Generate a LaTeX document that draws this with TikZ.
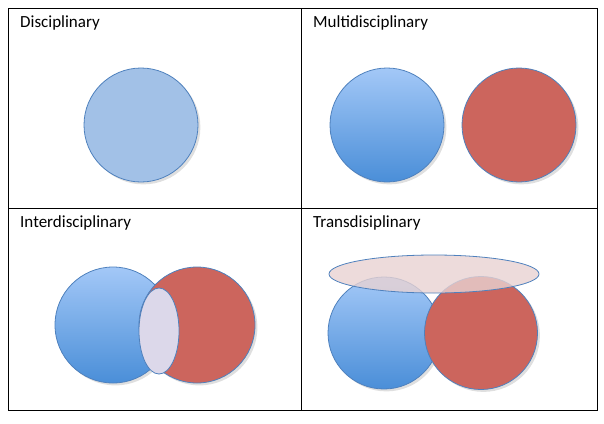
\documentclass[tikz,border=0pt]{standalone}
\usepackage{fontspec}
\setmainfont{Carlito}
\usetikzlibrary{shadows,shapes.geometric}
\definecolor{bl}{HTML}{4F81BD}
\definecolor{bltop}{HTML}{A3C8F7}
\definecolor{blbot}{HTML}{4A8ED8}
\definecolor{rd}{HTML}{CC655D}
\definecolor{flat}{HTML}{A2C1E7}
\tikzset{
 bluec/.style={circle,draw=bl,line width=0.8pt,top color=bltop,bottom color=blbot,drop shadow={opacity=0.25}},
 redc/.style={circle,draw=bl,line width=0.8pt,fill=rd,drop shadow={opacity=0.25}},
 lbl/.style={anchor=north west,font=\fontsize{17}{20}\selectfont,inner sep=0pt},
}
\begin{document}
\begin{tikzpicture}[x=1pt,y=-1pt]
\useasboundingbox (0,0) rectangle (604,423);
\draw[line width=1pt] (8,8) rectangle (597,410);
\draw[line width=1pt] (301,8) -- (301,410);
\draw[line width=1pt] (8,208) -- (597,208);
\node[lbl] (t1) at (20,15) {Disciplinary};
\node[lbl] (t2) at (313,15) {Multidisciplinary};
\node[lbl] (t3) at (20,215) {Interdisciplinary};
\node[lbl] (t4) at (313,215) {Transdisiplinary};
% disciplinary
\node[circle,draw=bl,line width=0.8pt,fill=flat,minimum size=114pt,drop shadow={opacity=0.25}] (d) at (141,125) {};
% multi
\node[bluec,minimum size=114pt] (m1) at (387,125) {};
\node[redc,minimum size=114pt] (m2) at (519,125) {};
% inter
\node[bluec,minimum size=116pt] (i1) at (113,325) {};
\node[redc,minimum size=116pt] (i2) at (197,325) {};
\node[ellipse,draw=bl,line width=0.8pt,fill={rgb,255:red,220;green,216;blue,234},minimum width=40pt,minimum height=86pt,inner sep=0pt] (lens) at (159,331) {};
% trans
\node[bluec,minimum size=112pt] (tr1) at (384,333) {};
\node[redc,minimum size=113pt] (tr2) at (481,333) {};
\node[ellipse,draw=bl,line width=0.8pt,fill={rgb,255:red,232;green,210;blue,210},fill opacity=0.8,minimum width=210pt,minimum height=38pt,inner sep=0pt] (el) at (434,274) {};
\end{tikzpicture}
\end{document}
